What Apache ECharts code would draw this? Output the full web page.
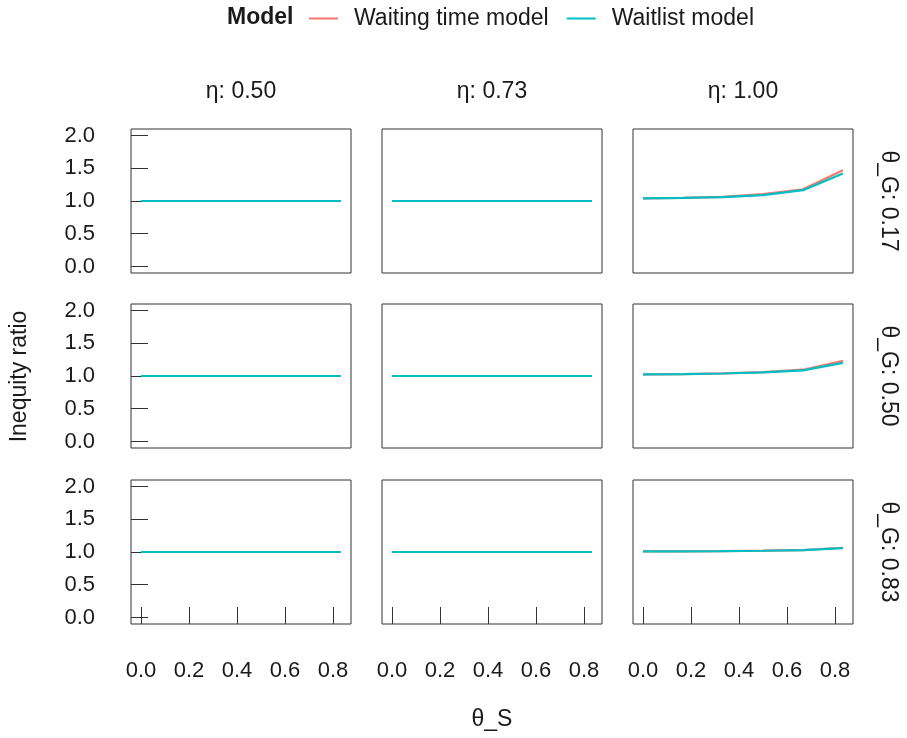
<!DOCTYPE html>
<html>
<head>
<meta charset="utf-8">
<title>Inequity ratio by θ_S</title>
<script src="https://cdn.jsdelivr.net/npm/echarts@6/dist/echarts.min.js"></script>
<style>
  html, body { margin: 0; padding: 0; background: #ffffff; }
  #chart { width: 907px; height: 738px; }
</style>
</head>
<body>
<div id="chart"></div>
<script>
// Facet levels
const etaLevels = ['0.50', '0.73', '1.00'];      // columns
const thetaGLevels = ['0.17', '0.50', '0.83'];   // rows

// θ_S values along the x axis
const thetaS = [0, 0.167, 0.333, 0.5, 0.667, 0.833];
const xTicks = [0, 0.2, 0.4, 0.6, 0.8];
const yTicks = [0, 0.5, 1.0, 1.5, 2.0];

// Inequity ratio, η = 0.50 and η = 0.73 (all θ_G rows)
const waitingEta050 = [1.00, 1.00, 1.00, 1.00, 1.00, 1.00];
const waitlistEta050 = [1.00, 1.00, 1.00, 1.00, 1.00, 1.00];
const waitingEta073 = [1.00, 1.00, 1.00, 1.00, 1.00, 1.00];
const waitlistEta073 = [1.00, 1.00, 1.00, 1.00, 1.00, 1.00];

// Inequity ratio, η = 1.00, one array per θ_G row
const waitingEta100G017 = [1.04, 1.049, 1.064, 1.105, 1.18, 1.47];
const waitlistEta100G017 = [1.04, 1.048, 1.06, 1.09, 1.165, 1.42];
const waitingEta100G050 = [1.024, 1.03, 1.04, 1.06, 1.096, 1.23];
const waitlistEta100G050 = [1.024, 1.029, 1.038, 1.055, 1.085, 1.20];
const waitingEta100G083 = [1.01, 1.011, 1.014, 1.02, 1.03, 1.065];
const waitlistEta100G083 = [1.01, 1.011, 1.014, 1.019, 1.028, 1.06];

const seriesNames = ['Waiting time model', 'Waitlist model'];
const colors = ['#F8766D', '#00BFC4'];

// panel values indexed [row][col] -> [waiting, waitlist]
const panelValues = [
  [[waitingEta050, waitlistEta050], [waitingEta073, waitlistEta073], [waitingEta100G017, waitlistEta100G017]],
  [[waitingEta050, waitlistEta050], [waitingEta073, waitlistEta073], [waitingEta100G050, waitlistEta100G050]],
  [[waitingEta050, waitlistEta050], [waitingEta073, waitlistEta073], [waitingEta100G083, waitlistEta100G083]]
];

// Panel layout
const colLeft = [131, 382, 633];
const panelW = 220;
const rowTop = [129, 304, 480];
const panelH = 144;

const FONT = 'Liberation Sans, Arial, Helvetica, sans-serif';
const textColor = '#1a1a1a';
const frameColor = '#333333';

const grids = [], xAxes = [], yAxes = [], series = [];
let idx = 0;
for (let r = 0; r < 3; r++) {
  for (let c = 0; c < 3; c++) {
    grids.push({
      left: colLeft[c], top: rowTop[r], width: panelW, height: panelH,
      show: true, borderColor: frameColor, borderWidth: 1,
      backgroundColor: 'transparent', containLabel: false, outerBoundsMode: 'none'
    });
    const bottomRow = r === 2;
    const leftCol = c === 0;
    xAxes.push({
      type: 'value', gridIndex: idx, min: -0.041667, max: 0.875, position: 'bottom',
      axisLine: { show: false, onZero: false },
      splitLine: { show: false },
      axisTick: {
        show: bottomRow, inside: true, length: 17, customValues: xTicks,
        lineStyle: { color: frameColor, width: 1 }
      },
      axisLabel: {
        show: bottomRow, customValues: xTicks, margin: 36,
        formatter: v => v.toFixed(1),
        fontFamily: FONT, fontSize: 22, color: textColor
      }
    });
    yAxes.push({
      type: 'value', gridIndex: idx, min: -0.1, max: 2.1, position: 'left',
      axisLine: { show: false, onZero: false },
      splitLine: { show: false },
      axisTick: {
        show: leftCol, inside: true, length: 17, customValues: yTicks,
        lineStyle: { color: frameColor, width: 1 }
      },
      axisLabel: {
        show: leftCol, customValues: yTicks, margin: 36,
        formatter: v => v.toFixed(1),
        fontFamily: FONT, fontSize: 22, color: textColor
      }
    });
    for (let s = 0; s < 2; s++) {
      series.push({
        name: seriesNames[s], type: 'line',
        xAxisIndex: idx, yAxisIndex: idx,
        data: thetaS.map((x, i) => [x, panelValues[r][c][s][i]]),
        symbol: 'none', showSymbol: false,
        lineStyle: { color: colors[s], width: 2.2 },
        itemStyle: { color: colors[s] },
        z: 2 + s
      });
    }
    idx++;
  }
}

// Strip labels (top: η, right: θ_G) and axis titles
const graphics = [];
etaLevels.forEach((e, c) => {
  graphics.push({
    type: 'text', x: colLeft[c] + panelW / 2, y: 92,
    style: { text: 'η: ' + e, font: '23px ' + FONT, fill: textColor, align: 'center', verticalAlign: 'middle' }
  });
});
thetaGLevels.forEach((g, r) => {
  graphics.push({
    type: 'text', x: 888, y: rowTop[r] + panelH / 2, rotation: -Math.PI / 2,
    style: { text: 'θ_G: ' + g, font: '23px ' + FONT, fill: textColor, align: 'center', verticalAlign: 'middle' }
  });
});
graphics.push({
  type: 'text', x: (colLeft[0] + colLeft[2] + panelW) / 2, y: 720,
  style: { text: 'θ_S', font: '23px ' + FONT, fill: textColor, align: 'center', verticalAlign: 'middle' }
});
graphics.push({
  type: 'text', x: 20, y: (rowTop[0] + rowTop[2] + panelH) / 2, rotation: Math.PI / 2,
  style: { text: 'Inequity ratio', font: '23px ' + FONT, fill: textColor, align: 'center', verticalAlign: 'middle' }
});
graphics.push({
  type: 'text', x: 227, y: 18,
  style: { text: 'Model', font: 'bold 23px ' + FONT, fill: textColor, align: 'left', verticalAlign: 'middle' }
});

const chart = echarts.init(document.getElementById('chart'), null, { renderer: 'canvas' });
chart.setOption({
  animation: false,
  backgroundColor: '#ffffff',
  legend: {
    data: seriesNames,
    left: 309, top: 7, padding: 0,
    icon: 'rect',
    itemWidth: 29, itemHeight: 2, itemGap: 18,
    textStyle: { fontFamily: FONT, fontSize: 23, color: textColor, padding: [0, 0, 0, 11] },
    selectedMode: false
  },
  grid: grids,
  xAxis: xAxes,
  yAxis: yAxes,
  series: series,
  graphic: graphics
});
</script>
</body>
</html>
